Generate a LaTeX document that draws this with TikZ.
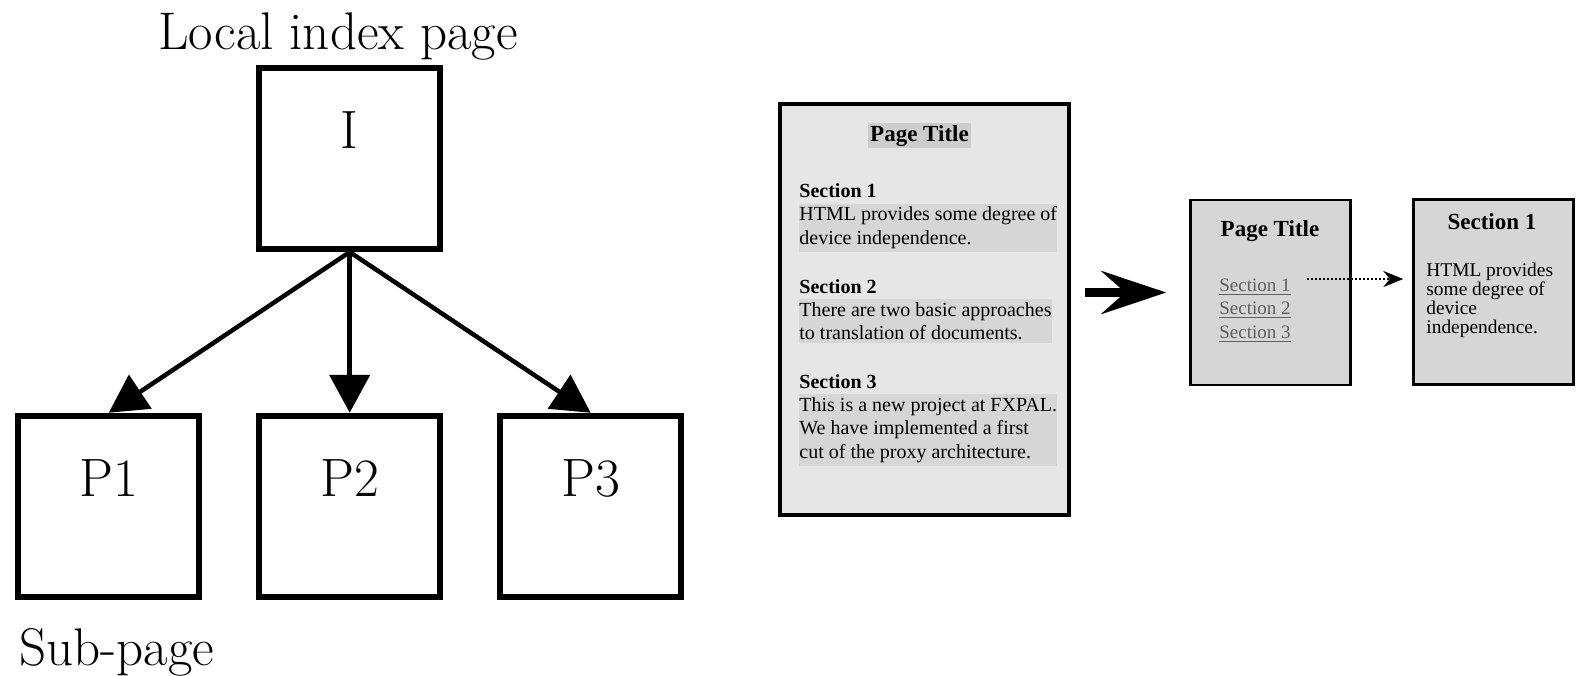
\documentclass[tikz,border=0pt]{standalone}
\usepackage{fontspec}
\newfontfamily\paperfont{Liberation Serif}
\usepackage{xcolor}
\usepackage{tikz}
\usetikzlibrary{arrows.meta,positioning}

\definecolor{pagefill}{RGB}{230,230,230}
\definecolor{markfill}{RGB}{214,214,214}
\definecolor{titlefill}{RGB}{205,205,205}
\definecolor{cardfill}{RGB}{214,214,214}
\definecolor{linkgray}{RGB}{95,95,95}

\tikzset{
  pagebox/.style={draw, line width=3pt, minimum size=90.75pt, text height=0pt, text depth=9.6pt, font=\fontsize{27}{30}\selectfont},
  caption/.style={font=\fontsize{26.5}{29}\selectfont, inner sep=0pt},
  tree/.style={-{Triangle[length=19pt,width=20pt]}, line width=2.25pt},
  fullpage/.style={draw, line width=2pt, fill=pagefill, minimum width=144.5pt, minimum height=205.5pt},
  card/.style={draw, line width=1.2pt, fill=cardfill, minimum width=80pt, minimum height=92.5pt},
  ptitle/.style={font=\paperfont\bfseries\fontsize{11.5}{13}\selectfont, inner sep=0pt, anchor=base},
  sechead/.style={font=\paperfont\bfseries\fontsize{10}{12}\selectfont, inner sep=0pt, anchor=base west},
  secbody/.style={font=\paperfont\fontsize{10}{11.85}\selectfont, align=left, fill=markfill, inner xsep=0pt, inner ysep=1.5pt, anchor=north west},
  cardbody/.style={font=\paperfont\fontsize{9.7}{9.4}\selectfont, align=left, inner sep=0pt, anchor=north west},
  link/.style={font=\paperfont\fontsize{9.5}{11}\selectfont, text=linkgray, inner sep=0pt, anchor=base west},
  bigarrow/.style={-{Stealth[length=32.5pt,width=21.5pt,inset=12pt]}, line width=4.5pt},
  linkarrow/.style={-{Stealth[length=10pt,width=8pt]}, line width=1pt, dash pattern=on 1pt off 1pt}
}

\begin{document}
\begin{tikzpicture}[x=0.5pt, y=-0.5pt, node distance=80.35pt and 26.75pt]
  \useasboundingbox (0,0) rectangle (1577,675);

  % index page and its sub-pages
  \node[caption, anchor=base] (toplabel) at (338,49) {Local index page};
  \node[pagebox] (I) at (349.7,158.3) {I};
  \node[pagebox, below=of I] (P2) {P2};
  \node[pagebox, left=of P2] (P1) {P1};
  \node[pagebox, right=of P2] (P3) {P3};
  \node[caption, anchor=base west] (sublabel) at (19,665) {Sub-page};

  \draw[tree] (I.south) -- (P1.north);
  \draw[tree] (I.south) -- (P2.north);
  \draw[tree] (I.south) -- (P3.north);

  % the full page
  \node[fullpage] (full) at (924.5,309.5) {};
  \node[ptitle, fill=titlefill, inner sep=1.2pt] (ftitle) at (919.5,141) {Page Title};
  \node[sechead] (fsec1) at (799,197) {Section 1};
  \node[secbody] (fbody1) at (799,203.5) {HTML provides some degree of\\device independence.};
  \node[sechead] (fsec2) at (799,293.3) {Section 2};
  \node[secbody] (fbody2) at (799,299) {There are two basic approaches\\to translation of documents.};
  \node[sechead] (fsec3) at (799,388) {Section 3};
  \node[secbody] (fbody3) at (799,394) {This is a new project at FXPAL.\\We have implemented a first\\cut of the proxy architecture.};

  % split into an index card and a section card
  \node[card] (index) at (1270.5,292.5) {};
  \node[ptitle] (ititle) at (1270,236) {Page Title};
  \node[link] (link1) at (1219,291) {\underline{Section 1}};
  \node[link] (link2) at (1219,314.5) {\underline{Section 2}};
  \node[link] (link3) at (1219,338) {\underline{Section 3}};

  \node[card] (sect) at (1493.5,292) {};
  \node[ptitle] (stitle) at (1492,229) {Section 1};
  \node[cardbody] (sbody) at (1426,263) {HTML provides\\some degree of\\device\\independence.};

  \draw[bigarrow, shorten <=7pt, shorten >=11.5pt] (full.east |- index.west) -- (index.west);
  \coordinate (dotstart) at ([yshift=6pt]link1.base east);
  \draw[linkarrow, shorten <=8pt, shorten >=4.5pt] (dotstart) -- (dotstart -| sect.west);
\end{tikzpicture}
\end{document}
